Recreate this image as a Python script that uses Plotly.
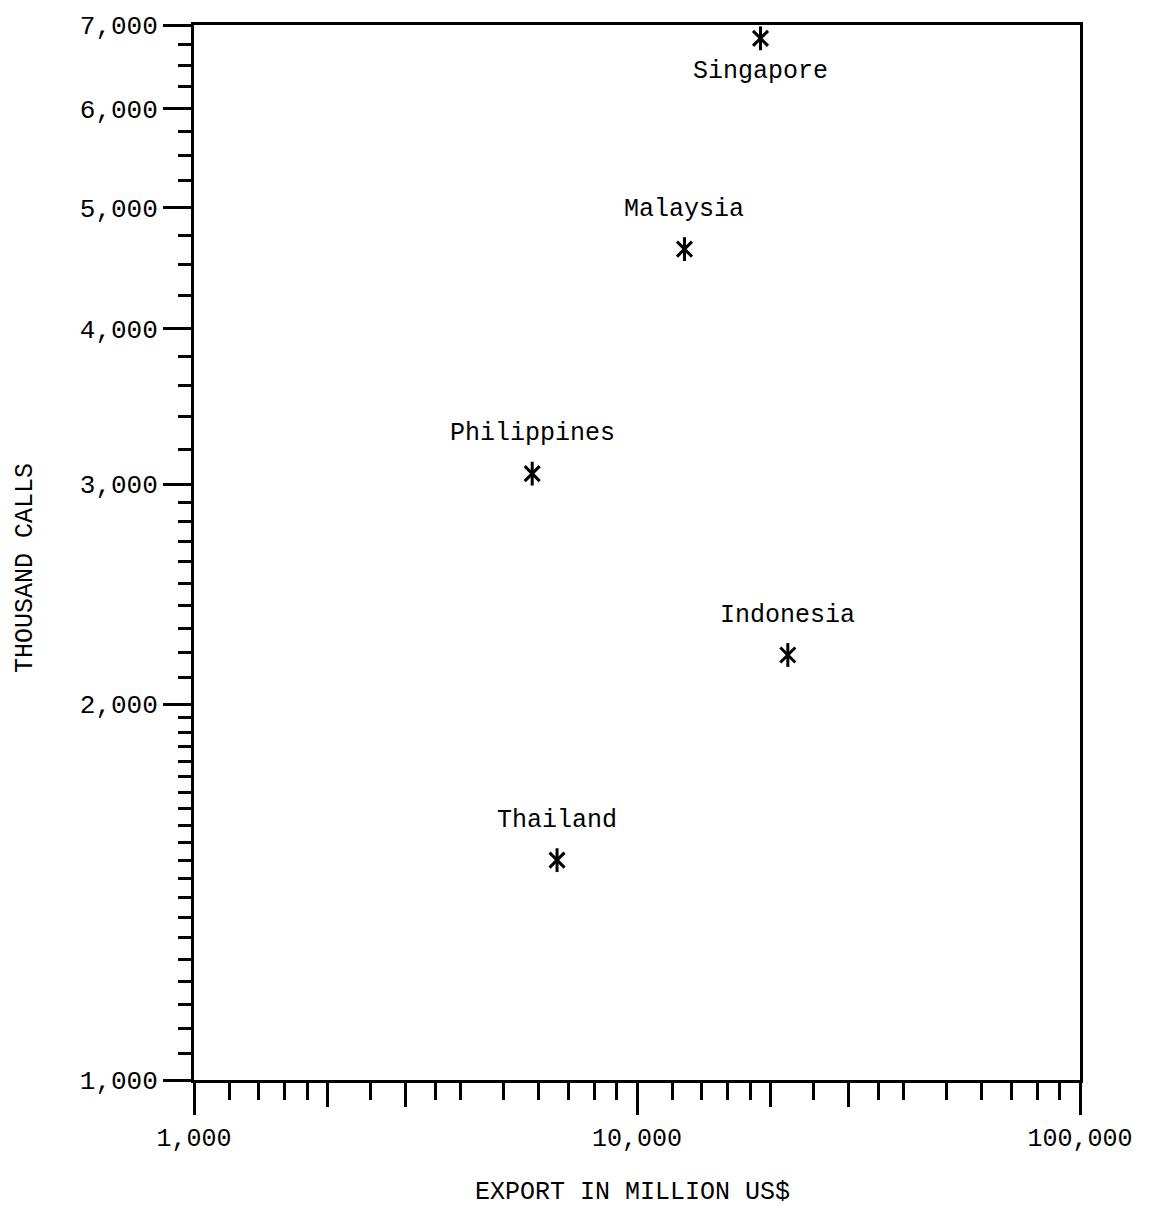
import math
import plotly.graph_objects as go

# Telephone calls versus exports, ASEAN countries
countries = ["Singapore", "Malaysia", "Philippines", "Indonesia", "Thailand"]
export_musd = [19000, 12800, 5800, 21900, 6600]
thousand_calls = [6830, 4630, 3060, 2190, 1500]
label_side = ["below", "above", "above", "above", "above"]

# axis ticks
x_major = [1000, 10000, 100000]
x_major_text = ["1,000", "10,000", "100,000"]
x_mid = [2000, 3000, 20000, 30000]
x_minor = [1200, 1400, 1600, 1800, 2500, 3500, 4000, 5000, 6000, 7000, 8000, 9000,
           12000, 14000, 16000, 18000, 25000, 35000, 40000, 50000, 60000, 70000,
           80000, 90000]

y_major = [1000, 2000, 3000, 4000, 5000, 6000, 7000]
y_major_text = ["1,000", "2,000", "3,000", "4,000", "5,000", "6,000", "7,000"]
y_minor = [1050, 1100, 1150, 1200, 1250, 1300, 1350, 1400, 1450, 1500, 1550, 1600,
           1650, 1700, 1750, 1800, 1850, 1900, 1950,
           2100, 2200, 2300, 2400, 2500, 2600, 2700, 2800, 2900,
           3200, 3400, 3600, 3800,
           4250, 4500, 4750, 5250, 5500, 5750, 6250, 6500, 6750]

FONT = "Liberation Mono, Courier New, monospace"
INK = "black"

fig = go.Figure()

# asterisk markers: a vertical bar crossed by an X
fig.add_trace(go.Scatter(
    x=export_musd, y=thousand_calls, mode="markers",
    marker=dict(symbol="line-ns-open", size=17, color=INK,
                line=dict(color=INK, width=3)),
    hoverinfo="text", text=countries, xaxis="x", yaxis="y",
))
fig.add_trace(go.Scatter(
    x=export_musd, y=thousand_calls, mode="markers",
    marker=dict(symbol="x-thin-open", size=15, color=INK,
                line=dict(color=INK, width=3)),
    hoverinfo="skip", xaxis="x2", yaxis="y",
))

annotations = []
for name, xv, yv, side in zip(countries, export_musd, thousand_calls, label_side):
    annotations.append(dict(
        x=math.log10(xv), y=math.log10(yv), xref="x", yref="y",
        text=name, showarrow=False,
        yshift=-33 if side == "below" else 40,
        font=dict(family=FONT, size=25, color=INK),
    ))

annotations.append(dict(
    x=0.5 - 5 / 886, y=(1080 - 1193) / 1061, xref="paper", yref="paper",
    text="EXPORT IN MILLION US$", showarrow=False,
    xanchor="center", yanchor="middle",
    font=dict(family=FONT, size=25, color=INK),
))
annotations.append(dict(
    x=(26 - 194) / 886, y=(1080 - 565) / 1061, xref="paper", yref="paper",
    text="THOUSAND CALLS", showarrow=False, textangle=-90,
    xanchor="center", yanchor="middle",
    font=dict(family=FONT, size=25, color=INK),
))

x_range = [3, 5]
y_range = [3, math.log10(7000)]

fig.update_layout(
    width=1157, height=1208,
    margin=dict(l=194, r=77, t=19, b=128),
    paper_bgcolor="white", plot_bgcolor="white",
    showlegend=False,
    font=dict(family=FONT, size=25, color=INK),
    annotations=annotations,
    xaxis=dict(
        type="log", range=x_range, showgrid=False, zeroline=False,
        showline=True, linewidth=3, linecolor=INK, mirror=True,
        ticks="outside", ticklen=32, tickwidth=3, tickcolor=INK,
        tickvals=x_major, ticktext=x_major_text,
        tickfont=dict(family=FONT, size=25, color=INK),
        ticklabelstandoff=1,
        minor=dict(tickvals=x_minor, ticks="outside", ticklen=17,
                   tickwidth=2.5, tickcolor=INK, showgrid=False),
    ),
    xaxis2=dict(
        type="log", range=x_range, overlaying="x", anchor="y", side="bottom",
        showgrid=False, zeroline=False, showline=False,
        ticks="outside", ticklen=26, tickwidth=3, tickcolor=INK,
        tickvals=x_mid, showticklabels=False,
    ),
    yaxis=dict(
        type="log", range=y_range, showgrid=False, zeroline=False,
        showline=True, linewidth=3, linecolor=INK, mirror=True,
        ticks="outside", ticklen=28, tickwidth=3, tickcolor=INK,
        tickvals=y_major, ticktext=y_major_text,
        tickfont=dict(family=FONT, size=26, color=INK),
        minor=dict(tickvals=y_minor, ticks="outside", ticklen=13,
                   tickwidth=2.5, tickcolor=INK, showgrid=False),
    ),
)

fig.write_html("out.html")
